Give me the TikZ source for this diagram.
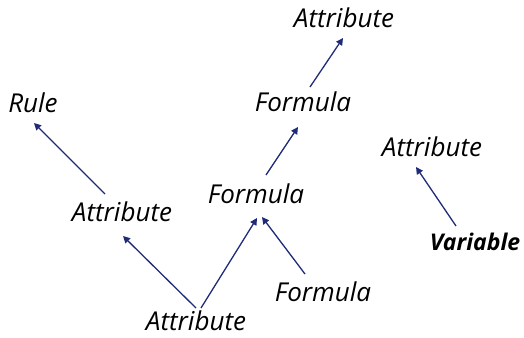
\documentclass[tikz,border=0pt]{standalone}
\usepackage{fontspec}
\setmainfont{Open Sans}
\usetikzlibrary{arrows.meta}
\definecolor{navy}{HTML}{1F2A78}
\tikzset{
  lbl/.style={inner sep=0pt, font=\fontsize{26}{30}\selectfont\itshape},
  arr/.style={navy, line width=1.3pt, -{Triangle[length=7pt,width=7pt]}}
}
\begin{document}
\begin{tikzpicture}[x=1pt,y=-1pt]
\useasboundingbox (0,0) rectangle (524,337);
\node[lbl] (rule) at (33,103) {Rule};
\node[lbl] (attL) at (122,212) {Attribute};
\node[lbl] (attB) at (196,321) {Attribute};
\node[lbl] (forM) at (256,194) {Formula};
\node[lbl] (forL) at (323,292) {Formula};
\node[lbl] (forT) at (303,102) {Formula};
\node[lbl] (attT) at (344,18) {Attribute};
\node[lbl] (attR) at (432,147) {Attribute};
\node[lbl, font=\fontsize{23}{27}\selectfont\bfseries\itshape] (var) at (475,242) {Variable};
\draw[arr] ([shift={(-17,-18)}]attL.center) -- ([shift={(1,20)}]rule.center);
\draw[arr] ([shift={(0,-13)}]attB.center) -- ([shift={(1,24)}]attL.center);
\draw[arr] ([shift={(5,-13)}]attB.center) -- ([shift={(1,24)}]forM.center);
\draw[arr] ([shift={(-18,-18)}]forL.center) -- ([shift={(6,23)}]forM.center);
\draw[arr] ([shift={(10,-19)}]forM.center) -- ([shift={(-5,25)}]forT.center);
\draw[arr] ([shift={(7,-15)}]forT.center) -- ([shift={(-1,20)}]attT.center);
\draw[arr] ([shift={(-19,-16)}]var.center) -- ([shift={(-16,20)}]attR.center);
\end{tikzpicture}
\end{document}
